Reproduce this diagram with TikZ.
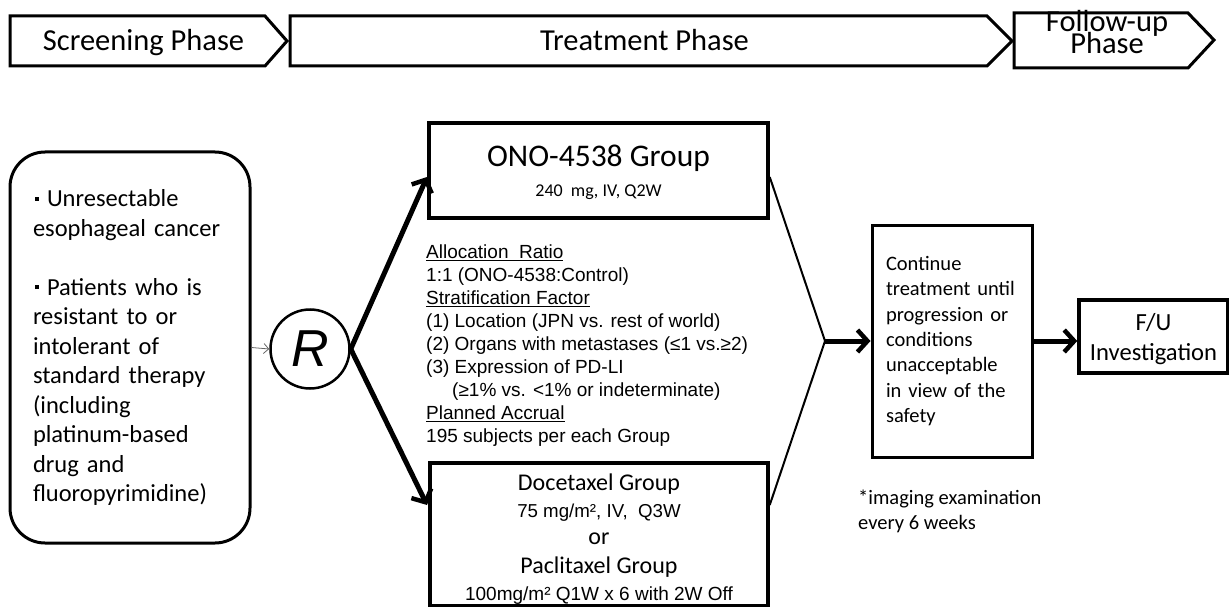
\documentclass[tikz,border=0pt]{standalone}
\usepackage{fontspec}
\setmainfont{Carlito}
\newfontfamily\arialfont{Liberation Sans}
\usetikzlibrary{arrows.meta, positioning, calc}

\newcommand\jdot{\makebox[14pt][l]{\hspace{2pt}\rule[6pt]{4pt}{4pt}}}

\begin{document}
\begin{tikzpicture}
        [
          x=1pt, y=-1pt,
          phase/.style={draw, line width=3pt},
          phasetext/.style={anchor=base, font=\fontsize{30.5}{30.5}\selectfont},
          box/.style={draw, line width=3.5pt, align=center, inner sep=0pt},
          boxtext/.style={align=center, inner sep=0pt},
          bigarrow/.style={-{Straight Barb[length=10pt, width=22pt, line width=4.5pt]}, line width=5pt},
          every node/.style={text=black}
        ]
        \useasboundingbox (0,0) rectangle (1229,607);

        % phase banners
        \draw[phase] (10,16) -- (265,16) -- (287,41) -- (265,66) -- (10,66) -- cycle;
        \draw[phase] (290,16) -- (987,16) -- (1012,41) -- (987,66) -- (290,66) -- cycle;
        \draw[phase] (1014,13) -- (1188,13) -- (1214,40) -- (1188,68) -- (1014,68) -- cycle;
        \node[phasetext] (scr) at (143.5,51) {Screening Phase};
        \node[phasetext] (trt) at (644.5,51) {Treatment Phase};
        \node[phasetext] (fu1) at (1107,32) {Follow-up};
        \node[phasetext] (fu2) at (1107,54) {Phase};

        % patients
        \node[draw, line width=3pt, rounded corners=35pt, minimum height=391pt,
              text width=194pt, inner xsep=23pt, align=left,
              font=\fontsize{24.5}{29.5}\selectfont] (crit) at (130,347.5)
          {\jdot Unresectable\\ esophageal cancer\\[29.5pt]
           \jdot Patients who is\\ resistant to or\\ intolerant of\\ standard therapy\\
           (including\\ platinum-based\\ drug and\\ fluoropyrimidine)};

        \node[circle, draw, line width=2.5pt, minimum size=79pt, inner sep=0pt] (R) at (310,349)
          {\arialfont\itshape\fontsize{52}{52}\selectfont R};

        % groups
        \node[box, minimum width=339pt, minimum height=95pt] (ono) at (598.5,170.5) {};
        \node[boxtext, font=\fontsize{31.5}{30}\selectfont] (onotext) at ($(ono.center)+(0,2)$)
          {ONO-4538 Group\\
           \fontsize{18}{18}\selectfont 240\ \ mg, IV, Q2W};
        \node[box, minimum width=338pt, minimum height=143pt] (doce) at (599,534.5) {};
        \node[boxtext, font=\fontsize{24}{27}\selectfont] (docetext) at ($(doce.center)+(0,5)$)
          {Docetaxel Group\\
           {\arialfont\fontsize{18.7}{27}\selectfont 75 mg/m², IV,\ \ Q3W}\\
           or\\[2pt]
           Paclitaxel Group\\
           {\arialfont\fontsize{19}{26}\selectfont 100mg/m² Q1W x 6 with 2W Off}};

        \node[anchor=north west, align=left, inner sep=0pt, font=\arialfont\fontsize{19}{23}\selectfont] (alloc) at (426,245)
          {\underline{Allocation\ \ Ratio}\\
           1:1 (ONO-4538:Control)\\
           \underline{Stratification Factor}\\
           (1) Location (JPN vs. rest of world)\\
           (2) Organs with metastases (≤1 vs.≥2)\\
           (3) Expression of PD-LI\\
           \hspace*{26pt}(≥1\% vs. <1\% or indeterminate)\\
           \underline{Planned Accrual}\\
           195 subjects per each Group};

        % treatment and follow-up
        \node[box, line width=3pt, minimum height=232pt, text width=132pt, inner xsep=14pt, align=left,
              font=\fontsize{20.5}{25.3}\selectfont] (cont) at (952,341)
          {Continue\\ treatment until\\ progression or\\ conditions\\ unacceptable\\ in view of the\\ safety};
        \node[box, minimum width=149pt, minimum height=73pt] (fu) at (1153.5,336.5) {};
        \node[boxtext, font=\fontsize{24.6}{30}\selectfont] (futext) at ($(fu.center)+(0,3)$)
          {F/U\\ Investigation};

        \node[anchor=north west, align=left, inner sep=0pt, font=\fontsize{20.5}{25}\selectfont] (note) at (858,490)
          {*imaging examination\\ every 6 weeks};

        \coordinate (up) at (427,177);
        \coordinate (down) at (427,505);
        \coordinate (join) at (825,341);

        \draw[-{Straight Barb[length=5pt, width=10pt]}, line width=0.8pt, black!60] (crit.east) -- (R.west);
        \path[bigarrow]
                          (R.east) edge (up)
                          (R.east) edge (down);
        \draw[line width=2pt] (ono.east |- up) -- (join) -- (doce.east |- down);
        \path[bigarrow]
                          (join) edge (cont.west)
                          (cont.east) edge (cont.east -| fu.west);
      \end{tikzpicture}
\end{document}
